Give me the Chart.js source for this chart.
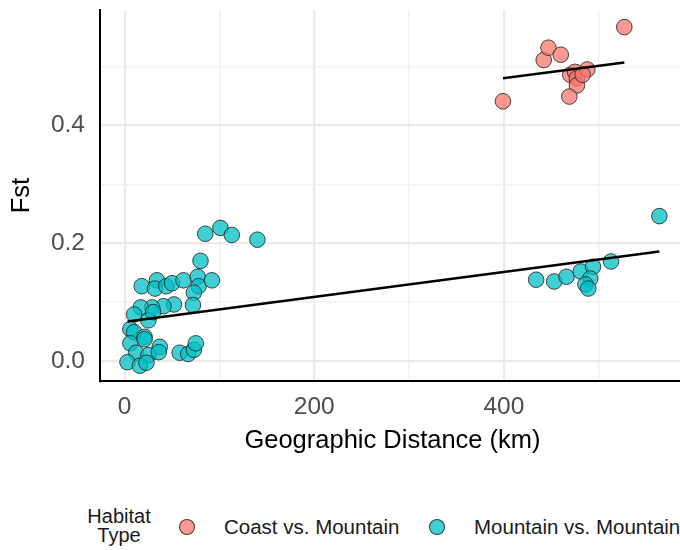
<!DOCTYPE html>
<html lang="en">
  <head>
    <meta charset="UTF-8" />
    <title>Fst vs Geographic Distance</title>
    <script src="https://cdn.jsdelivr.net/npm/chart.js"></script>
    <style>
      body {
        margin: 0;
        width: 680px;
        height: 550px;
        overflow: hidden;
        background: #fff;
        font-family: "Liberation Sans", Arial, sans-serif;
      }
      .wrap {
        position: relative;
        width: 700px;
        height: 470px;
      }
      .legend-title {
        position: absolute;
        left: 69px;
        top: 507px;
        width: 100px;
        text-align: center;
        font-size: 20px;
        line-height: 19px;
        color: #1a1a1a;
      }
      .legend-dot {
        position: absolute;
        top: 519px;
        width: 14px;
        height: 14px;
        border-radius: 50%;
        border: 1px solid rgba(40, 40, 40, 0.85);
      }
      .legend-label {
        position: absolute;
        top: 517px;
        font-size: 20.5px;
        line-height: 20px;
        white-space: nowrap;
        color: #1a1a1a;
      }
    </style>
  </head>
  <body>
    <div class="wrap">
      <canvas id="fstChart"></canvas>
    </div>

    <div class="legend-title">Habitat<br />Type</div>
    <span class="legend-dot" id="dot-coast" style="left: 179px"></span>
    <span class="legend-label" style="left: 224px">Coast vs. Mountain</span>
    <span class="legend-dot" id="dot-mountain" style="left: 429px"></span>
    <span class="legend-label" style="left: 474px">Mountain vs. Mountain</span>

    <script>
      // Coast vs. Mountain pairs
      const coastX = [399, 442, 447, 460, 470, 475, 477, 488, 477, 469, 527, 483];
      const coastY = [0.441, 0.511, 0.532, 0.52, 0.486, 0.491, 0.48, 0.495, 0.468, 0.449, 0.567, 0.486];

      // Mountain vs. Mountain pairs
      const mountainX = [
        85, 101, 113, 140, 80, 564, 434, 453, 466, 481, 494, 513, 491, 486, 489,
        18, 34, 32, 44, 50, 62, 77, 78, 73, 92, 72, 52, 41, 29, 17, 10, 25, 30,
        6, 10, 21, 6, 21, 37, 12, 25, 3, 16, 23, 36, 58, 67, 73, 75,
      ];
      const mountainY = [
        0.216, 0.226, 0.214, 0.206, 0.17, 0.246, 0.138, 0.135, 0.143, 0.152, 0.16,
        0.169, 0.14, 0.13, 0.123, 0.127, 0.137, 0.123, 0.127, 0.132, 0.137, 0.143,
        0.127, 0.116, 0.137, 0.095, 0.096, 0.093, 0.091, 0.091, 0.079, 0.069, 0.083,
        0.054, 0.049, 0.041, 0.03, 0.037, 0.024, 0.014, 0.01, -0.002, -0.008,
        -0.003, 0.015, 0.014, 0.012, 0.019, 0.03,
      ];

      // fitted lines (end points)
      const coastFitX = [399, 527];
      const coastFitY = [0.48, 0.507];
      const mountainFitX = [3, 564];
      const mountainFitY = [0.067, 0.186];

      const xTicks = [0, 100, 200, 300, 400, 500];
      const xTickLabels = ["0", "", "200", "", "400", ""];
      const yTicks = [0, 0.1, 0.2, 0.3, 0.4, 0.5];
      const yTickLabels = ["0.0", "", "0.2", "", "0.4", ""];

      const coastFill = "rgba(248, 118, 109, 0.75)";
      const mountainFill = "rgba(0, 191, 196, 0.75)";
      const edge = "rgba(40, 40, 40, 0.85)";
      const FONT = "'Liberation Sans', Arial, sans-serif";

      document.getElementById("dot-coast").style.background = coastFill;
      document.getElementById("dot-mountain").style.background = mountainFill;

      const toPoints = (xs, ys) => xs.map((x, i) => ({ x: x, y: ys[i] }));

      const gridWidth = (labels) => (ctx) =>
        labels[ctx.index] !== "" ? 2.2 : 1.5;
      const gridColor = (labels) => (ctx) =>
        labels[ctx.index] !== "" ? "#EBEBEB" : "#F1F1F1";

      new Chart(document.getElementById("fstChart"), {
        type: "scatter",
        data: {
          datasets: [
            {
              type: "line",
              data: toPoints(coastFitX, coastFitY),
              borderColor: "#000",
              borderWidth: 2.5,
              pointRadius: 0,
              fill: false,
            },
            {
              type: "line",
              data: toPoints(mountainFitX, mountainFitY),
              borderColor: "#000",
              borderWidth: 2.5,
              pointRadius: 0,
              fill: false,
            },
            {
              label: "Coast vs. Mountain",
              data: toPoints(coastX, coastY),
              backgroundColor: coastFill,
              borderColor: edge,
              borderWidth: 1,
              pointRadius: 7.8,
            },
            {
              label: "Mountain vs. Mountain",
              data: toPoints(mountainX, mountainY),
              backgroundColor: mountainFill,
              borderColor: edge,
              borderWidth: 1,
              pointRadius: 7.8,
            },
          ],
        },
        options: {
          responsive: true,
          maintainAspectRatio: false,
          animation: false,
          events: [],
          layout: { padding: { top: 10, right: 15, bottom: 9, left: 0 } },
          plugins: {
            legend: { display: false },
            tooltip: { enabled: false },
          },
          scales: {
            x: {
              type: "linear",
              min: -26,
              max: 591,
              afterBuildTicks: (scale) => {
                scale.ticks = xTicks.map((v) => ({ value: v }));
              },
              afterFit: (scale) => {
                scale.height = 80;
                scale.paddingLeft = 0;
                scale.paddingRight = 0;
              },
              ticks: {
                callback: (v, i) => xTickLabels[i],
                color: "#4D4D4D",
                padding: 12,
                maxRotation: 0,
                autoSkip: false,
                font: { family: FONT, size: 24.5 },
              },
              grid: {
                drawTicks: false,
                lineWidth: gridWidth(xTickLabels),
                color: gridColor(xTickLabels),
              },
              border: { display: true, color: "#000", width: 2 },
              title: {
                display: true,
                text: "Geographic Distance (km)",
                color: "#000",
                padding: { top: 0, bottom: 5 },
                font: { family: FONT, size: 25.5 },
              },
            },
            y: {
              type: "linear",
              min: -0.034,
              max: 0.596,
              afterBuildTicks: (scale) => {
                scale.ticks = yTicks.map((v) => ({ value: v }));
              },
              afterFit: (scale) => {
                scale.width = 100;
                scale.paddingTop = 0;
                scale.paddingBottom = 0;
              },
              ticks: {
                callback: (v, i) => yTickLabels[i],
                color: "#4D4D4D",
                padding: 15,
                autoSkip: false,
                font: { family: FONT, size: 24.5 },
              },
              grid: {
                drawTicks: false,
                lineWidth: gridWidth(yTickLabels),
                color: gridColor(yTickLabels),
              },
              border: { display: true, color: "#000", width: 2 },
              title: {
                display: true,
                text: "Fst",
                color: "#000",
                padding: { top: 7, bottom: 0 },
                font: { family: FONT, size: 25.5 },
              },
            },
          },
        },
      });
    </script>
  </body>
</html>
